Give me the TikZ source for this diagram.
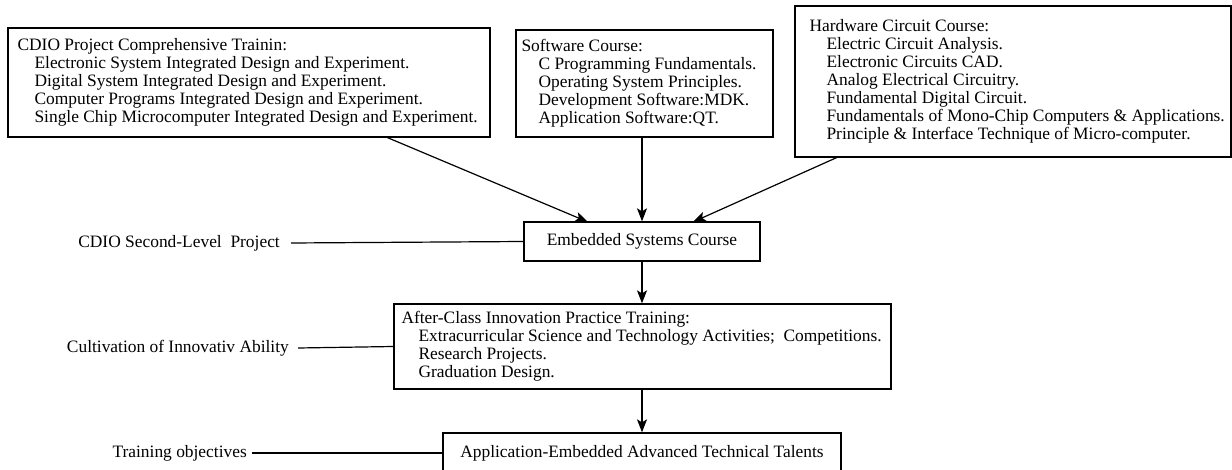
\documentclass[tikz,border=0pt]{standalone}
\usepackage{fontspec}
\setmainfont{Liberation Serif}
\usetikzlibrary{arrows.meta}
\tikzset{
  frame/.style={draw, line width=1.3pt, inner sep=0pt},
  listing/.style={anchor=west, align=left, inner sep=0pt,
    font=\fontsize{17.4}{18}\selectfont},
  single/.style={draw, line width=1.3pt, align=center, inner ysep=0pt,
    font=\fontsize{17.4}{18}\selectfont},
  tag/.style={inner sep=0pt, anchor=east, font=\fontsize{17.4}{18}\selectfont},
  flow/.style={line width=1.2pt, -{Stealth[length=13pt,width=10pt,inset=3pt]}},
  link/.style={line width=1.2pt},
}
\newcommand{\ind}{\hspace*{17pt}}
\begin{document}
\begin{tikzpicture}[x=1pt,y=-1pt]
\useasboundingbox (0,0) rectangle (1232,470);

% upper course groups: frame first, then its list of courses
\node[frame, minimum width=482pt, minimum height=109pt] (cdio) at (249,82.5) {};
\node[listing] (cdioText) at ([xshift=10pt]cdio.west)
 {CDIO Project Comprehensive Trainin:\\
  \ind Electronic System Integrated Design and Experiment.\\
  \ind Digital System Integrated Design and Experiment.\\
  \ind Computer Programs Integrated Design and Experiment.\\
  \ind Single Chip Microcomputer Integrated Design and Experiment.};

\node[frame, minimum width=257pt, minimum height=107pt] (soft) at (644.5,83.5) {};
\node[listing] (softText) at ([xshift=6pt]soft.west)
 {Software Course:\\
  \ind C Programming Fundamentals.\\
  \ind Operating System Principles.\\
  \ind Development Software:MDK.\\
  \ind Application Software:QT.};

\node[frame, minimum width=436pt, minimum height=151pt] (hard) at (1013,81.5) {};
\node[listing] (hardText) at ([xshift=15pt]hard.west)
 {Hardware Circuit Course:\\
  \ind Electric Circuit Analysis.\\
  \ind Electronic Circuits CAD.\\
  \ind Analog Electrical Circuitry.\\
  \ind Fundamental Digital Circuit.\\
  \ind Fundamentals of Mono-Chip Computers \& Applications.\\
  \ind Principle \& Interface Technique of Micro-computer.};

% main chain
\node[single, minimum width=236pt, minimum height=39pt] (emb) at (642,241.5)
 {Embedded Systems Course};

\node[frame, minimum width=497pt, minimum height=85pt] (after) at (642.5,346.5) {};
\node[listing] (afterText) at ([xshift=8pt]after.west)
 {After-Class Innovation Practice Training:\\
  \ind Extracurricular Science and Technology Activities;\ \ Competitions.\\
  \ind Research Projects.\\
  \ind Graduation Design.};

\node[single, minimum width=398pt, minimum height=40pt] (talent) at (642,453)
 {Application-Embedded Advanced Technical Talents};

% stage labels
\node[tag] (lvl) at (280,243) {CDIO Second-Level\ \ Project};
\node[tag] (cult) at (289,348) {Cultivation of Innovativ Ability};
\node[tag] (goal) at (247,453) {Training objectives};

% arrows into the course
\coordinate (cdioOut) at (386,137);
\coordinate (hardOut) at (838,157);
\coordinate (embInL) at (588,222);
\coordinate (embInR) at (693,222);
\draw[flow] (cdioOut) -- (embInL);
\draw[flow] (soft.south -| emb.north) -- (emb.north);
\draw[flow] (hardOut) -- (embInR);
\draw[flow] (emb.south) -- (emb.south |- after.north);
\draw[flow] (emb.south |- after.south) -- (talent.north);

% label leaders
\draw[link] ([xshift=11pt]lvl.east) -- (emb.west);
\draw[link] ([xshift=9pt]cult.east) -- (after.west);
\draw[link] ([xshift=5pt]goal.east) -- (talent.west);
\end{tikzpicture}
\end{document}
